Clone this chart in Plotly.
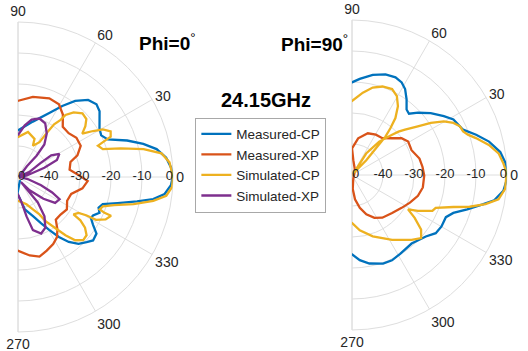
import plotly.graph_objects as go

# ---------------- data (theta in degrees, r in dB) ----------------
# Phi = 0 cut
p0_mcp_theta = [-57, -92, -78, -69, -63.4, -59.5, -55.7, -52, -47.9, -43.5, -40.2, -35.8, -32.5, -29.4, -27.2, -23.7,
                -20.8, -17.8, -14.7, -11.6, -9.3, -6.6, -3.1, 0, 3.4, 7.4, 11.4, 14.8, 18.5, 22.7, 26.6, 30.8, 34.2,
                38.9, 42.8, 47.7, 53.1, 58.1, 64, 75, 89.6, 95]
p0_mcp_r = [-48.8, -44.7, -39.3, -36.5, -33.3, -30.2, -26.6, -23.4, -20.9, -19.5, -18.3, -18.8, -21.3, -23, -22.8, -21.3,
            -22.2, -21.3, -16.8, -10.8, -5.8, -2.4, -0.6, -0.1, -0.5, -1.8, -4.4, -8.2, -12.9, -18.6, -20, -19.4, -18.2,
            -16.2, -15.5, -16.4, -19.3, -23, -27, -31.5, -34.9, -34.5]

p0_mxp_theta = [-95, -89.8, -81.5, -74.9, -68.7, -62.3, -57, -53, -48.5, -41.4, -33.5, -25.8, -17.6, -10, -3.4, 2, 8,
                16, 20.1, 26.5, 33.9, 40.9, 48.3, 54.3, 60.6, 68.3, 79.5, 89.8, 95]
p0_mxp_r = [-27, -26.2, -24.4, -23.4, -24.5, -25.6, -26.9, -28.9, -31.6, -31.7, -31.1, -32.4, -32, -28.9, -27.5, -30.5,
            -33.2, -32.4, -29.6, -27.4, -27.3, -28.4, -28.3, -25.2, -23.1, -22.7, -23.7, -25.4, -26]

p0_scp_theta = [-95, -89.3, -72.7, -65.3, -60.2, -57.8, -53.7, -50.8, -47.9, -44.1, -40.3, -37.1, -34.8, -34, -30.7,
                -29.3, -28.8, -25.8, -22.6, -22.5, -21.6, -19.1, -16.3, -13.2, -10, -7.2, -3.7, 0, 5.5, 9.4, 12.5,
                15.6, 18.2, 21.4, 22.6, 23.5, 26.2, 29.3, 31.5, 34, 37, 40.3, 44.6, 49.3, 52.6, 53.3, 55.6, 56.8, 58.3,
                64.6, 66.6, 77.5, 89.6, 95]
p0_scp_r = [-42.5, -42.3, -40.8, -38.5, -36.1, -33.1, -29.4, -25.8, -22.5, -20.7, -21, -22.9, -25.5, -28.4, -27.3,
            -24.8, -21.3, -18.6, -17.5, -19.8, -21.7, -21, -17.7, -11.7, -5.7, -1.8, -0.2, 0, -0.9, -3.1, -8.5,
            -15.6, -21.2, -22.3, -19.7, -17.4, -16.7, -18.6, -21.6, -25, -22.8, -21.1, -20.8, -22.5, -24.8, -27,
            -29.4, -32.6, -36.8, -38.8, -36.6, -35.1, -37.1, -37.5]

p0_sxp_theta = [95, 89.6, 82.5, 76.6, 69.8, 63.1, 56.5, 51, 48.9, 50.5, 40, 20, 23.9, 31.9, 33.2, 29.3, 23.6, 19.4,
                10, 0, -12, -19.7, -24.4, -28.2, -34.9, -40.6, -49, -60, -52.1, -56.1, -61.7, -67.7, -74.3, -77.8,
                -82, -89, -95]
p0_sxp_r = [-37, -36.3, -33.2, -31, -29.9, -30.6, -33.2, -36.5, -40.9, -45.5, -49, -49.7, -45.9, -41.5, -37.2, -34.7,
            -36.3, -41, -47.1, -49.5, -46.8, -42.1, -37.9, -34.8, -35.4, -39.2, -44.3, -48.1, -39.6, -34.7, -31.4,
            -30.3, -32.2, -37, -41.7, -44, -45]

# Phi = 90 cut
p90_mcp_theta = [-95, -90, -84.8, -78.9, -70.7, -64.9, -58.6, -49, -39.8, -34.8, -29.9, -24.2, -20.5, -16.6, -12.7,
                 -10.1, -6, -2, 0.6, 4.7, 8.8, 13.7, 18, 22.2, 28.7, 32.7, 38.2, 43.3, 47.1, 50.2, 54.2, 58.3, 61.8,
                 66, 71.6, 78.3, 85.4, 90, 95]
p90_mcp_r = [-25, -24.4, -22.4, -20.9, -19.7, -19.6, -20.2, -20.7, -19, -17.1, -16.7, -16.8, -15.1, -11.2, -6.8,
             -3.4, -0.9, -0.1, -0.1, -0.4, -1.6, -4.5, -7.9, -11.3, -12.7, -14.8, -17.7, -20.7, -23, -22.5, -19.9,
             -17.4, -16.1, -15.5, -15.8, -17, -18.9, -20.1, -21]

p90_mxp_theta = [90, 80.5, 69.3, 59.4, 50.5, 42.7, 36.6, 30.8, 22.6, 13.7, 6.5, -0.4, -10, -17.5, -25.5, -33.5,
                 -43.4, -54.6, -62.4, -70, -76.7, -83, -87, -72, 58, 85, 90]
p90_mxp_r = [-41.4, -38, -35.6, -34.9, -34.6, -32.5, -30.1, -28.9, -29.2, -27.6, -27.1, -26.7, -26.8, -27.7, -29.3,
             -30.8, -32.2, -33.1, -34.4, -36.5, -39.1, -42.1, -45.5, -48.7, -48.2, -45.2, -41.4]

p90_scp_theta = [-95, -90, -82, -71.3, -58.3, -47.4, -42.4, -38.3, -34.4, -31.5, -28.6, -24.1, -21.4, -17.5, -15.1,
                 -12.3, -9.4, -5.2, 0.8, 4.3, 8.4, 12.4, 16.6, 19.2, 21.4, 24.3, 27.2, 30.3, 33.5, 36.5, 40.5, 43,
                 45.1, 50.9, 56.7, 50, 45.9, 48.2, 48.9, 50.6, 52.7, 56.3, 60.4, 65, 71, 76.7, 82.5, 90, 95]
p90_scp_r = [-35, -34.5, -32, -29.1, -25.4, -21.6, -19.8, -21.6, -25.5, -28.8, -25.8, -21.6, -21, -15.7, -10.7,
             -5.9, -2.1, -0.4, -0.1, -1, -2.2, -4.8, -8.3, -10.4, -11.5, -11.8, -13.2, -15.7, -19.5, -23.6, -27.5,
             -29.5, -31.7, -36.1, -41.7, -49, -43.4, -38.5, -33.6, -30.5, -26.9, -23.3, -20.7, -19.4, -19.8, -21,
             -23.2, -26.1, -27]

series_names = ["Measured-CP", "Measured-XP", "Simulated-CP", "Simulated-XP"]
series_colors = ["#0072BD", "#D95319", "#EDB120", "#7E2F8E"]

radial_label_vals = [-50, -40, -30, -20, -10, 0]
radial_label_text = ["0", "-40", "-30", "-20", "-10", "0"]
radial_grid_vals = [-40, -30, -20, -10, 0]
angle_tick_vals = [-90, -60, -30, 0, 30, 60, 90]
angle_tick_text = ["270", "300", "330", "0", "30", "60", "90"]

# ---------------- figure ----------------
FONT = "Arial, 'Liberation Sans', Helvetica, sans-serif"
GRID = "#dedede"
TXT = "#262626"
LW = 2.3

fig = go.Figure()

cuts = [
    ("polar", [(p0_mcp_theta, p0_mcp_r), (p0_mxp_theta, p0_mxp_r), (p0_scp_theta, p0_scp_r), (p0_sxp_theta, p0_sxp_r)]),
    ("polar2", [(p90_mcp_theta, p90_mcp_r), (p90_mxp_theta, p90_mxp_r), (p90_scp_theta, p90_scp_r)]),
]

for k, (sub, series) in enumerate(cuts):
    for i, (th, rr) in enumerate(series):
        fig.add_trace(go.Scatterpolar(
            theta=th, r=rr, mode="lines", subplot=sub,
            name=series_names[i], legendgroup=series_names[i], showlegend=(k == 0),
            line=dict(color=series_colors[i], width=LW), hoverinfo="skip",
        ))
    fig.add_trace(go.Scatterpolar(
        theta=[0] * len(radial_label_vals), r=radial_label_vals, mode="text", subplot=sub,
        text=radial_label_text,
        textposition=["middle right"] + ["middle center"] * 4 + ["middle left"],
        textfont=dict(size=13, color=TXT, family=FONT), showlegend=False, hoverinfo="skip",
    ))


def polar_cfg(xd, yd):
    return dict(
        domain=dict(x=xd, y=yd),
        sector=[-90, 90],
        bgcolor="white",
        radialaxis=dict(range=[-50, 0], tickmode="array", tickvals=radial_grid_vals, showticklabels=False,
                        ticks="", showline=False, gridcolor=GRID, gridwidth=1, layer="below traces", angle=0),
        angularaxis=dict(direction="counterclockwise", rotation=0, tickmode="array", tickvals=angle_tick_vals,
                         ticktext=angle_tick_text, ticks="", showline=True, linecolor=GRID, linewidth=1,
                         gridcolor=GRID, gridwidth=1, layer="below traces",
                         tickfont=dict(size=14, color=TXT, family=FONT)),
    )


W, H = 528, 351
fig.update_layout(
    width=W, height=H,
    margin=dict(l=0, r=0, t=0, b=0),
    paper_bgcolor="white",
    font=dict(family=FONT, color=TXT),
    polar=polar_cfg([0.0341, 0.3277], [0.0541, 0.9373]),
    polar2=polar_cfg([0.6667, 0.9602], [0.0598, 0.9430]),
    legend=dict(x=0.37, y=0.665, xanchor="left", yanchor="top", bgcolor="white",
                bordercolor="#a8a8a8", borderwidth=1, font=dict(size=13.5, color=TXT, family=FONT),
                itemwidth=30, tracegroupgap=0),
    showlegend=True,
    annotations=[
        dict(text="<b>Phi=0</b><sup>°</sup>", x=0.318, y=0.880, xref="paper", yref="paper",
             xanchor="center", yanchor="middle", showarrow=False,
             font=dict(size=19, color="black", family=FONT)),
        dict(text="<b>Phi=90</b><sup>°</sup>", x=0.595, y=0.8775, xref="paper", yref="paper",
             xanchor="center", yanchor="middle", showarrow=False,
             font=dict(size=19, color="black", family=FONT)),
        dict(text="<b>24.15GHz</b>", x=0.5047, y=0.715, xref="paper", yref="paper",
             xanchor="center", yanchor="middle", showarrow=False,
             font=dict(size=20, color="black", family=FONT)),
    ],
)

fig.write_html("out.html", config={"displayModeBar": False},
               post_script="document.body.style.margin='0';")
